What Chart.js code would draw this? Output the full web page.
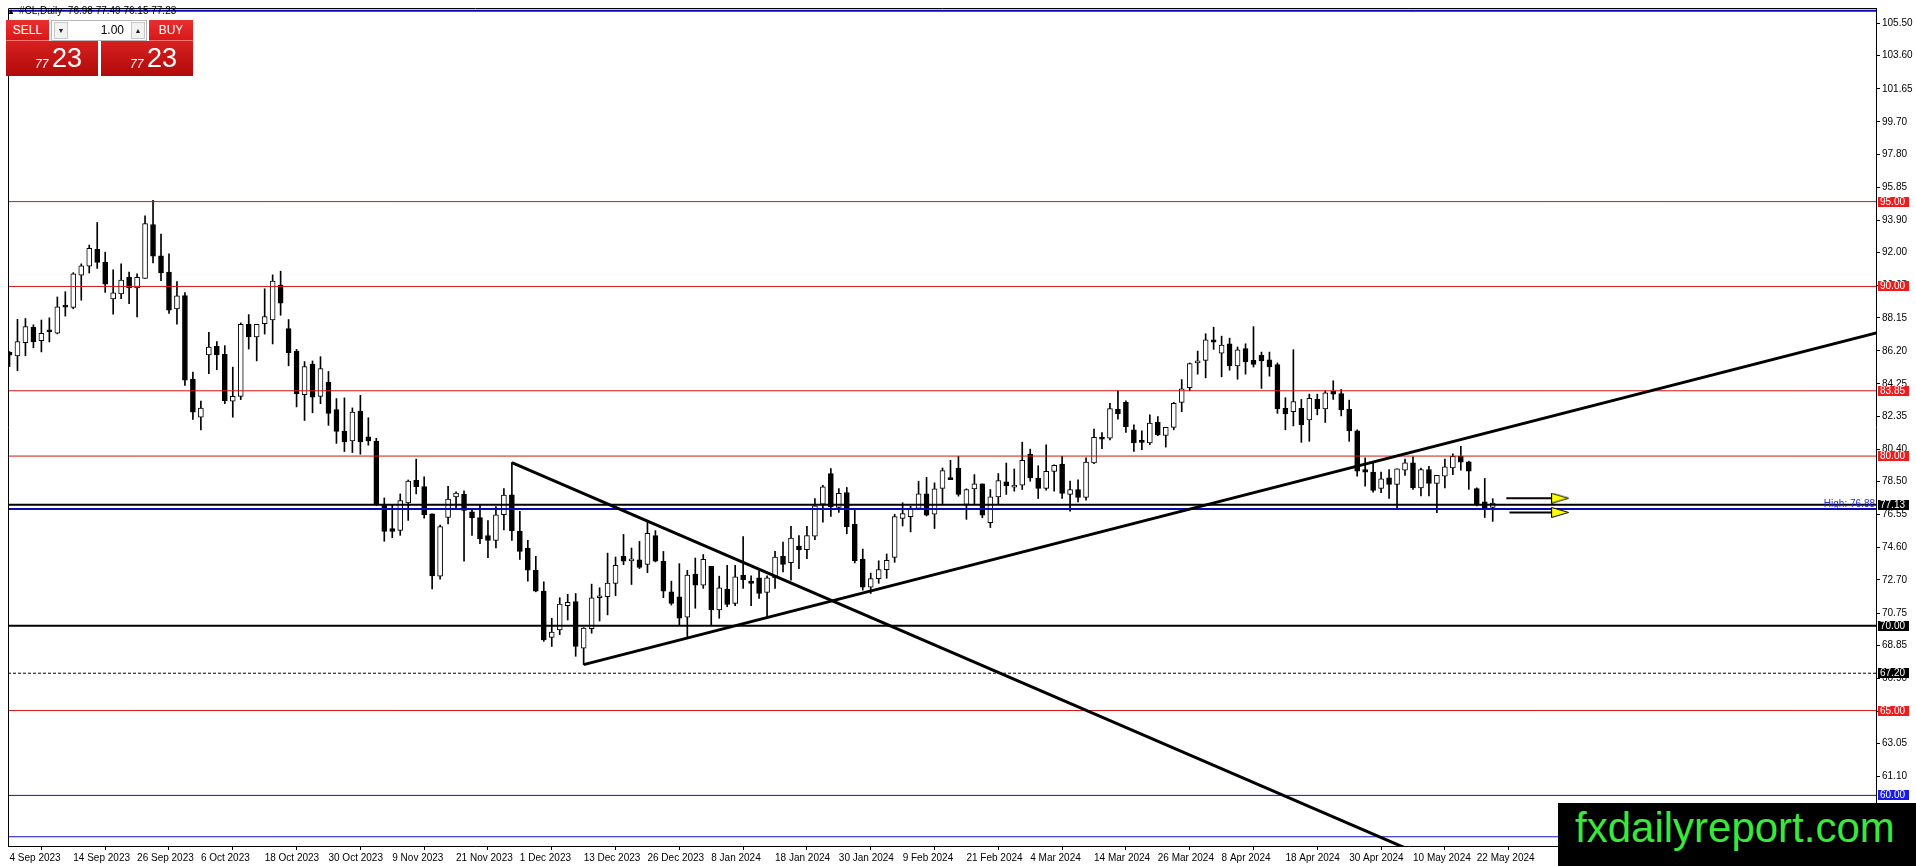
<!DOCTYPE html>
<html>
<head>
<meta charset="utf-8">
<title>#CL,Daily</title>
<script src="https://cdn.jsdelivr.net/npm/chart.js@4.4.1/dist/chart.umd.min.js"></script>
<style>
    html, body { margin: 0; padding: 0; background: #fff; }
    #wrap { position: relative; width: 1916px; height: 866px; overflow: hidden; font-family: 'Liberation Sans', Arial, sans-serif; }
    #chart { position: absolute; left: 0; top: 0; }
    #title { position: absolute; left: 7px; top: 5px; font-size: 10px; line-height: 12px; color: #000; white-space: pre; }
    #title .tri { font-size: 8px; margin-right: 4px; }
    .btn { position: absolute; top: 20px; height: 21px; line-height: 21px; width: 43px; text-align: center; color: #fff; font-size: 12px;
           background: linear-gradient(#e83030, #d81818); border-bottom: 1px solid #f07070; box-sizing: border-box; }
    #sell { left: 6px; }
    #buy { left: 149px; width: 44px; }
    #spin { position: absolute; left: 51px; top: 20px; width: 96px; height: 21px; background: #fff; border: 1px solid #b8b8b8; box-sizing: border-box; }
    #spin .ar { position: absolute; top: 1px; width: 14px; height: 17px; background: #f2f2f2; border: 1px solid #c8c8c8; box-sizing: border-box;
                font-size: 7px; line-height: 15px; text-align: center; color: #222; }
    #spin .dn { left: 2px; }
    #spin .up { right: 1px; }
    #spin .val { position: absolute; right: 22px; top: 0; font-size: 12px; line-height: 19px; color: #000; }
    .px { position: absolute; top: 41px; height: 35px; width: 92px; background: linear-gradient(#d82020, #b00a0a); color: #fff; }
    #pxl { left: 6px; }
    #pxr { left: 101px; }
    .px .s { position: absolute; left: 29px; top: 17px; font-size: 12px; line-height: 12px; font-style: italic; }
    .px .b { position: absolute; left: 46px; top: 4px; font-size: 27px; line-height: 27px; }
    #mark { position: absolute; left: 1558px; top: 803px; width: 358px; height: 63px; background: #000; }
    #mark span { position: absolute; left: 17px; top: 4px; font-size: 42px; line-height: 42px; color: #3ae83a; white-space: nowrap; }
</style>
</head>
<body>
<div id="wrap">
    <canvas id="chart" width="1916" height="866"></canvas>
    <div id="title"><span class="tri">&#9650;</span>#CL,Daily  76.98 77.49 76.15 77.23</div>
    <div class="btn" id="sell">SELL</div>
    <div id="spin"><span class="ar dn">&#9660;</span><span class="val">1.00</span><span class="ar up">&#9650;</span></div>
    <div class="btn" id="buy">BUY</div>
    <div class="px" id="pxl"><span class="s">77</span><span class="b">23</span></div>
    <div class="px" id="pxr"><span class="s">77</span><span class="b">23</span></div>
    <div id="mark"><span>fxdailyreport.com</span></div>
</div>
<script>
// daily bars, one entry per trading day starting 4 Sep 2023
const OPEN = [
    86.12, 85.91, 86.69, 87.59, 86.81, 87.41, 87.24, 88.85, 88.76, 90.67,
    91.20, 92.19, 91.43, 89.26, 89.56, 90.55, 89.91, 90.47, 93.65, 91.80,
    90.84, 88.68, 89.46, 84.54, 82.30, 85.97, 86.47, 86.00, 83.23, 83.52,
    87.76, 87.03, 87.80, 88.03, 90.08, 87.52, 86.18, 83.62, 85.42, 83.52,
    84.36, 82.74, 81.47, 80.89, 82.65, 81.14, 80.89, 77.14, 75.72, 75.62,
    77.24, 78.57, 78.20, 76.60, 72.92, 76.39, 77.60, 77.74, 76.72, 76.37,
    75.32, 75.03, 76.55, 77.72, 75.57, 74.58, 73.27, 72.04, 69.31, 69.76,
    71.18, 71.42, 68.68, 69.82, 71.65, 71.71, 72.49, 74.09, 73.82, 73.89,
    73.62, 75.32, 73.80, 72.00, 71.71, 70.50, 73.04, 72.39, 73.50, 70.93,
    72.16, 71.32, 72.98, 72.63, 72.82, 71.96, 72.82, 74.09, 73.72, 74.69,
    74.48, 75.28, 77.17, 78.97, 76.98, 77.85, 75.98, 73.93, 72.28, 72.78,
    73.31, 74.03, 76.33, 76.43, 76.92, 77.78, 76.57, 78.09, 78.71, 79.30,
    77.15, 78.07, 78.36, 76.08, 77.60, 78.48, 78.17, 78.28, 80.12, 78.71,
    78.09, 79.10, 79.53, 77.74, 78.03, 77.56, 79.60, 81.10, 81.06, 82.76,
    83.17, 81.55, 80.90, 80.77, 82.00, 81.22, 81.69, 83.17, 84.03, 85.49,
    85.64, 86.85, 86.07, 86.62, 85.31, 86.33, 85.64, 85.94, 85.68, 85.39,
    82.82, 82.62, 82.82, 82.13, 83.34, 82.78, 83.83, 83.69, 82.76, 81.49,
    79.21, 79.05, 78.09, 78.72, 78.33, 79.17, 79.60, 78.13, 79.21, 78.39,
    78.82, 79.30, 79.99, 79.66, 78.08, 77.30, 76.98
];
const HIGH = [
    86.16, 88.06, 88.11, 87.74, 88.02, 88.15, 89.38, 89.69, 90.81, 91.33,
    92.44, 93.77, 92.02, 90.98, 91.33, 90.84, 90.75, 94.16, 95.08, 93.09,
    91.92, 90.28, 89.64, 84.95, 83.24, 87.29, 86.75, 86.51, 85.24, 87.85,
    88.34, 87.76, 89.86, 90.68, 90.90, 88.05, 86.29, 85.57, 85.61, 85.86,
    84.99, 83.39, 83.43, 82.84, 83.58, 82.26, 81.05, 77.53, 77.09, 77.77,
    78.59, 79.82, 78.78, 76.60, 75.94, 78.21, 77.89, 77.95, 76.84, 77.11,
    76.20, 77.02, 78.09, 79.61, 76.74, 75.03, 74.09, 72.59, 70.44, 71.65,
    71.85, 71.90, 69.89, 72.45, 72.24, 74.28, 74.05, 75.38, 74.58, 74.97,
    76.10, 75.61, 74.38, 72.63, 73.66, 73.27, 73.99, 74.20, 73.50, 72.92,
    73.56, 73.56, 75.26, 72.94, 73.37, 72.94, 74.38, 74.93, 75.86, 75.32,
    75.86, 77.50, 78.28, 79.26, 78.09, 78.15, 76.86, 74.52, 73.10, 73.83,
    74.23, 76.57, 77.25, 77.05, 78.52, 78.75, 78.42, 79.30, 79.75, 79.98,
    78.07, 78.91, 78.36, 78.03, 78.97, 79.59, 79.24, 80.82, 80.41, 79.43,
    80.66, 79.49, 79.98, 78.52, 78.60, 79.89, 81.59, 81.39, 83.11, 83.85,
    83.26, 81.84, 81.49, 82.43, 82.33, 81.69, 83.17, 84.51, 85.49, 86.19,
    87.21, 87.60, 87.07, 86.95, 86.43, 86.62, 87.63, 86.13, 86.13, 85.49,
    83.44, 86.27, 83.34, 83.65, 83.65, 83.85, 84.44, 83.93, 83.30, 81.55,
    79.89, 79.60, 79.05, 79.21, 79.25, 79.83, 79.95, 79.30, 79.40, 78.86,
    79.83, 80.14, 80.57, 79.70, 78.13, 78.68, 77.49
];
const LOW = [
    85.28, 85.03, 85.91, 86.38, 86.14, 86.73, 87.20, 88.25, 88.68, 89.19,
    90.79, 91.06, 89.65, 88.37, 89.28, 88.99, 88.21, 90.47, 91.39, 90.34,
    88.41, 87.78, 84.17, 82.16, 81.54, 84.86, 85.09, 83.09, 82.29, 83.33,
    86.31, 85.61, 87.19, 86.61, 88.30, 85.32, 82.90, 82.10, 82.55, 83.09,
    81.81, 80.75, 80.27, 80.21, 80.11, 80.64, 77.09, 74.98, 75.19, 75.33,
    76.21, 77.77, 76.34, 72.17, 72.74, 76.00, 76.88, 73.80, 75.32, 74.83,
    74.01, 74.58, 75.65, 75.03, 73.91, 72.63, 72.00, 69.08, 68.78, 69.47,
    70.34, 68.20, 67.71, 69.56, 70.28, 70.64, 71.77, 73.60, 72.43, 73.37,
    73.13, 73.76, 71.65, 71.22, 70.05, 69.31, 71.03, 72.20, 70.05, 70.44,
    71.12, 71.18, 72.20, 71.18, 71.61, 70.54, 72.20, 73.17, 72.68, 73.37,
    73.95, 75.08, 76.10, 76.45, 76.68, 75.42, 73.70, 72.10, 71.90, 72.50,
    72.80, 73.74, 75.88, 75.53, 76.86, 76.47, 75.73, 77.15, 78.61, 77.64,
    76.27, 77.15, 76.37, 75.79, 77.15, 77.74, 77.93, 78.03, 78.52, 77.50,
    77.99, 77.93, 77.50, 76.76, 77.30, 77.40, 79.56, 80.44, 80.96, 82.17,
    81.39, 80.28, 80.38, 80.67, 81.20, 80.53, 81.55, 82.62, 83.85, 84.83,
    84.61, 86.29, 84.67, 85.06, 84.53, 84.83, 85.25, 83.99, 84.71, 82.52,
    81.55, 81.78, 80.81, 80.87, 82.43, 81.98, 83.34, 82.37, 80.87, 78.82,
    78.23, 77.88, 77.84, 77.51, 76.92, 78.86, 78.04, 77.65, 77.65, 76.67,
    78.13, 78.91, 79.17, 78.04, 77.06, 76.38, 76.15
];
const CLOSE = [
    85.95, 86.75, 87.63, 86.73, 87.24, 87.33, 88.80, 88.78, 90.75, 91.22,
    92.25, 91.41, 90.14, 89.62, 90.38, 89.91, 90.53, 93.71, 91.78, 90.79,
    88.60, 89.44, 84.47, 82.59, 82.83, 86.42, 85.97, 83.27, 83.52, 87.76,
    87.02, 87.76, 88.22, 90.31, 89.01, 86.10, 83.68, 85.28, 83.48, 85.16,
    82.51, 81.46, 80.83, 82.59, 80.83, 80.89, 77.18, 75.56, 75.56, 77.38,
    78.53, 78.20, 76.54, 72.93, 75.84, 77.46, 77.82, 76.80, 76.35, 75.12,
    75.03, 76.53, 77.70, 75.61, 74.38, 73.27, 72.04, 69.17, 69.62, 71.28,
    71.38, 68.78, 69.86, 71.65, 71.75, 72.51, 73.56, 73.80, 73.95, 73.43,
    75.45, 73.80, 72.04, 71.32, 70.44, 72.98, 72.39, 73.91, 70.93, 72.24,
    71.26, 72.88, 72.72, 72.49, 71.90, 72.82, 74.05, 73.62, 75.16, 74.48,
    75.32, 77.07, 78.19, 77.02, 77.80, 75.84, 73.84, 72.28, 72.78, 73.31,
    73.86, 76.43, 76.61, 76.92, 77.78, 76.51, 78.07, 79.14, 78.61, 77.74,
    78.03, 78.36, 76.51, 77.60, 78.56, 78.26, 78.28, 79.75, 78.71, 78.09,
    79.10, 79.45, 77.80, 78.03, 77.56, 79.64, 81.10, 81.00, 82.80, 82.48,
    81.74, 80.77, 80.81, 81.94, 81.26, 81.69, 83.11, 83.97, 85.45, 85.61,
    86.85, 86.72, 86.54, 85.31, 86.27, 85.55, 85.41, 85.61, 85.25, 82.78,
    82.48, 83.21, 81.84, 83.40, 82.78, 83.73, 83.65, 82.72, 81.49, 79.11,
    79.05, 77.98, 78.66, 78.33, 79.25, 79.60, 78.13, 79.21, 78.39, 78.86,
    79.36, 79.99, 79.64, 79.11, 77.16, 76.96, 77.23
];

// date labels, one every 8 bars
const X_LABELS = [
    '4 Sep 2023', '14 Sep 2023', '26 Sep 2023', '6 Oct 2023', '18 Oct 2023', '30 Oct 2023',
    '9 Nov 2023', '21 Nov 2023', '1 Dec 2023', '13 Dec 2023', '26 Dec 2023', '8 Jan 2024',
    '18 Jan 2024', '30 Jan 2024', '9 Feb 2024', '21 Feb 2024', '4 Mar 2024', '14 Mar 2024',
    '26 Mar 2024', '8 Apr 2024', '18 Apr 2024', '30 Apr 2024', '10 May 2024', '22 May 2024'
];
const LABEL_STEP = 8;

// price scale ticks as printed on the right axis
const Y_TICKS = [
    105.50, 103.60, 101.65, 99.70, 97.80, 95.85, 93.90, 92.00, 90.05, 88.15, 86.20, 84.25,
    82.35, 80.40, 78.50, 76.55, 74.60, 72.70, 70.75, 68.85, 66.90, 64.95, 63.05, 61.10, 59.15
];

// horizontal levels
const RED_LEVELS = [95.00, 90.00, 83.85, 80.00, 65.00];
const BLACK_LEVELS = [77.13, 70.00];
const DOTTED_LEVELS = [67.20];
const BLUE_LEVELS = [60.00, 57.56];
const BLUE_THICK_LEVELS = [106.25];
const HIGH_LEVEL = 76.88;
const TAG_LEVELS = [95.00, 90.00, 83.85, 80.00, 77.13, 70.00, 67.20, 65.00, 60.00];

// trend lines: [bar, price] end points
const TREND_DOWN = [[63, 79.61], [200, 51.84]];
const TREND_UP = [[72, 67.71], [240, 87.97]];

// the two arrow objects to the right of the last bar
const ARROW_PRICES = [77.52, 76.68];
const ARROW_FROM = [187.7, 188.1];
const ARROW_TO = 194.45;

const X_MIN = -0.1875, X_MAX = 234.0625;
const Y_MIN = 57.016, Y_MAX = 106.413;

const FONT = 'Liberation Sans';
const RED = '#d81414';
const BLUE = '#1010c8';

Chart.defaults.font.family = FONT;
Chart.defaults.font.size = 10;
Chart.defaults.color = '#000';

const bars = OPEN.map((_, i) => i);
const wickData = bars.map(i => ({ x: i, y: [LOW[i], HIGH[i]] }));
const bodyData = bars.map(i => ({ x: i, y: [Math.min(OPEN[i], CLOSE[i]), Math.max(OPEN[i], CLOSE[i])] }));
const bodyFill = bars.map(i => CLOSE[i] >= OPEN[i] ? '#ffffff' : '#000000');

function levelSet(levels, color, width, dash) {
    return levels.map(v => ({
        type: 'line',
        data: [{ x: X_MIN, y: v }, { x: X_MAX, y: v }],
        borderColor: color,
        borderWidth: width,
        borderDash: dash || [],
        pointRadius: 0,
        fill: false,
        order: 2
    }));
}

function trendSet(points) {
    return {
        type: 'line',
        data: points.map(p => ({ x: p[0], y: p[1] })),
        borderColor: '#000',
        borderWidth: 3,
        pointRadius: 0,
        fill: false,
        order: 1
    };
}

function arrowHead() {
    const c = document.createElement('canvas');
    c.width = 18;
    c.height = 11;
    const g = c.getContext('2d');
    g.beginPath();
    g.moveTo(0.5, 0.5);
    g.lineTo(17.5, 5.5);
    g.lineTo(0.5, 10.5);
    g.closePath();
    g.fillStyle = '#ffff00';
    g.fill();
    g.strokeStyle = '#000';
    g.lineWidth = 1;
    g.stroke();
    return c;
}
const HEAD = arrowHead();

const arrowSets = ARROW_PRICES.map((p, i) => ({
    type: 'line',
    data: [{ x: ARROW_FROM[i], y: p }, { x: ARROW_TO, y: p }],
    borderColor: '#000',
    borderWidth: 2,
    pointRadius: [0, 6],
    pointStyle: HEAD,
    fill: false,
    order: 0
}));

function tagColor(v) {
    if (RED_LEVELS.includes(v)) return '#ee1c1c';
    if (BLUE_LEVELS.includes(v)) return '#1a1ae6';
    return '#000';
}

const chartFrame = {
    id: 'chartFrame',
    afterDraw(chart) {
        const { ctx, chartArea: a } = chart;
        ctx.save();
        ctx.strokeStyle = '#000';
        ctx.lineWidth = 1;
        ctx.beginPath();
        ctx.moveTo(a.left + 0.5, a.bottom);
        ctx.lineTo(a.left + 0.5, a.top + 0.5);
        ctx.lineTo(a.right, a.top + 0.5);
        ctx.stroke();
        ctx.restore();
    }
};

const levelTags = {
    id: 'levelTags',
    afterDraw(chart) {
        const { ctx, chartArea: a } = chart;
        const y = chart.scales.y;
        ctx.save();
        ctx.font = '10px "' + FONT + '"';
        ctx.textBaseline = 'middle';
        TAG_LEVELS.forEach(v => {
            const py = Math.round(y.getPixelForValue(v));
            ctx.fillStyle = tagColor(v);
            ctx.fillRect(a.right + 2, py - 5, 31, 10);
            ctx.fillStyle = '#fff';
            ctx.fillText(v.toFixed(2), a.right + 4, py + 0.5);
        });
        const hy = y.getPixelForValue(HIGH_LEVEL);
        ctx.fillStyle = '#2a2ad8';
        ctx.textAlign = 'right';
        ctx.fillText('High: ' + HIGH_LEVEL.toFixed(2), a.right - 1, hy - 5);
        ctx.restore();
    }
};

new Chart(document.getElementById('chart'), {
    type: 'bar',
    data: {
        datasets: [
            {
                data: wickData,
                backgroundColor: '#000',
                borderWidth: 0,
                barThickness: 1,
                grouped: false,
                order: 10
            },
            {
                data: bodyData,
                backgroundColor: bodyFill,
                borderColor: '#000',
                borderWidth: 1,
                borderSkipped: false,
                barThickness: 5,
                minBarLength: 2,
                grouped: false,
                order: 9
            },
            ...levelSet(RED_LEVELS, RED, 1),
            ...levelSet(BLUE_LEVELS, BLUE, 1),
            ...levelSet(BLUE_THICK_LEVELS, '#0a0ab4', 2),
            ...levelSet([HIGH_LEVEL], '#0a0ab4', 2),
            ...levelSet(BLACK_LEVELS, '#000', 2),
            ...levelSet(DOTTED_LEVELS, '#000', 1, [3, 2]),
            trendSet(TREND_DOWN),
            trendSet(TREND_UP),
            ...arrowSets
        ]
    },
    options: {
        responsive: false,
        animation: false,
        devicePixelRatio: 1,
        events: [],
        layout: { padding: { left: 2, top: 2, right: 0, bottom: 0 } },
        plugins: { legend: { display: false }, tooltip: { enabled: false } },
        scales: {
            x: {
                type: 'linear',
                position: 'bottom',
                min: X_MIN,
                max: X_MAX,
                offset: false,
                grid: { drawOnChartArea: false, drawTicks: true, tickLength: 4, color: '#000' },
                border: { display: true, color: '#000', width: 1 },
                ticks: {
                    autoSkip: false,
                    maxRotation: 0,
                    align: 'start',
                    padding: 2,
                    color: '#000',
                    font: { size: 10 },
                    callback: (v, i) => X_LABELS[i]
                },
                afterBuildTicks: s => { s.ticks = X_LABELS.map((_, i) => ({ value: i * LABEL_STEP })); },
                afterFit: s => { s.height = 20; s.paddingLeft = 0; s.paddingRight = 0; }
            },
            y: {
                type: 'linear',
                position: 'right',
                min: Y_MIN,
                max: Y_MAX,
                grid: { drawOnChartArea: false, drawTicks: true, tickLength: 4, color: '#000' },
                border: { display: true, color: '#000', width: 1 },
                ticks: {
                    padding: 2,
                    color: '#000',
                    font: { size: 10 },
                    callback: v => v.toFixed(2)
                },
                afterBuildTicks: s => { s.ticks = Y_TICKS.map(v => ({ value: v })); },
                afterFit: s => { s.width = 40; s.paddingTop = 0; s.paddingBottom = 0; }
            }
        }
    },
    plugins: [chartFrame, levelTags]
});
</script>
</body>
</html>
